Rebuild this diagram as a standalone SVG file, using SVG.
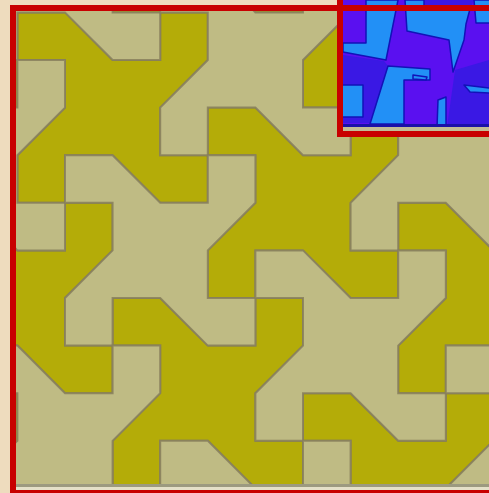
<svg xmlns="http://www.w3.org/2000/svg" xmlns:xlink="http://www.w3.org/1999/xlink" width="489" height="493" viewBox="0 0 489 493">
  <style>
    .tile { stroke: #877f5c; stroke-width: 2; stroke-opacity: 0.85; stroke-linejoin: miter; }
    .yel { fill: #b4ac08; }
    .bei { fill: #bfbb84; }
    .lb { fill: #2290f6; stroke: #1212b8; stroke-width: 1.5; stroke-linejoin: round; }
    .dv { fill: #3a18e4; }
    .frame { fill: none; stroke: #c80000; stroke-width: 6; }
  </style>
  <defs>
    <path id="t" d="M0,-47.6 H47.6 V-95.2 H95.2 V-47.6 L47.6,0 V47.6 H95.2 V95.2 H47.6 L0,47.6 H-47.6 V95.2 H-95.2 V47.6 L-47.6,0 V-47.6 H-95.2 V-95.2 H-47.6 Z"/>
    <clipPath id="clipMain"><rect x="16" y="11" width="473" height="473"/></clipPath>
    <clipPath id="clipInset"><rect x="343" y="0" width="146" height="127"/></clipPath>
  </defs>

  <rect x="0" y="0" width="489" height="493" fill="#eedcbe"/>

  <g id="tessellation" clip-path="url(#clipMain)">
    <rect x="16" y="11" width="473" height="473" fill="#bfbb84"/>
    <g id="yellow-tiles">
      <use href="#t" class="tile yel" x="-77.8" y="12.4"/>
      <use href="#t" class="tile yel" x="207.8" y="-82.8"/>
      <use href="#t" class="tile yel" x="112.6" y="107.6"/>
      <use href="#t" class="tile yel" x="398.2" y="12.4"/>
      <use href="#t" class="tile yel" x="17.4" y="298"/>
      <use href="#t" class="tile yel" x="303" y="202.8"/>
      <use href="#t" class="tile yel" x="588.6" y="107.6"/>
      <use href="#t" class="tile yel" x="-77.8" y="488.4"/>
      <use href="#t" class="tile yel" x="207.8" y="393.2"/>
      <use href="#t" class="tile yel" x="493.4" y="298"/>
      <use href="#t" class="tile yel" x="398.2" y="488.4"/>
    </g>
    <g id="beige-tiles">
      <use href="#t" class="tile bei" x="65" y="-35.2"/>
      <use href="#t" class="tile bei" x="-30.2" y="155.2"/>
      <use href="#t" class="tile bei" x="255.4" y="60"/>
      <use href="#t" class="tile bei" x="541" y="-35.2"/>
      <use href="#t" class="tile bei" x="160.2" y="250.4"/>
      <use href="#t" class="tile bei" x="445.8" y="155.2"/>
      <use href="#t" class="tile bei" x="65" y="440.8"/>
      <use href="#t" class="tile bei" x="350.6" y="345.6"/>
      <use href="#t" class="tile bei" x="255.4" y="536"/>
      <use href="#t" class="tile bei" x="541" y="440.8"/>
    </g>
  </g>

  <rect x="16" y="484" width="473" height="3" fill="#9c9a80"/>
  <rect x="16" y="487" width="473" height="3" fill="#e4e0c8"/>

  <g id="inset">
    <rect x="343" y="0" width="146" height="131" fill="#c2bc96"/>
    <g clip-path="url(#clipInset)">
      <rect x="343" y="0" width="146" height="127" fill="#5a10f0"/>
      <polygon class="dv" points="414,0 474,0 470,9 424,8"/>
      <polygon class="dv" points="343,55 384,61 400,80 370,123 343,123"/>
      <polygon class="dv" points="455,70 489,60 489,127 447,127"/>
      <polygon class="lb" points="366,0 398,0 386,60 343,52 343,43 366,43"/>
      <polygon class="lb" points="405,0 424,0 424,8 470,9 466,24 464,40 453,72 449,40 407,31"/>
      <polygon class="lb" points="474,0 490,0 490,23 476,23"/>
      <polygon class="lb" points="388,66 430,69 430,80 404,80 404,124 370,124"/>
      <polygon class="lb" points="342,85 363,85 363,117 342,117"/>
      <polygon class="lb" points="464,85 490,88 490,93 470,92"/>
      <polygon class="lb" points="413,75 427,77 426,80 413,79"/>
      <polygon class="lb" points="438,100 446,97 446,128 437,128"/>
      <rect x="343" y="124" width="146" height="3" fill="#1a10a8"/>
    </g>
  </g>

  <g id="frames">
    <rect class="frame" x="13" y="8" width="500" height="485"/>
    <rect x="337" y="0" width="6" height="137" fill="#c80000"/>
    <rect x="337" y="131" width="152" height="6" fill="#c80000"/>
  </g>
</svg>
